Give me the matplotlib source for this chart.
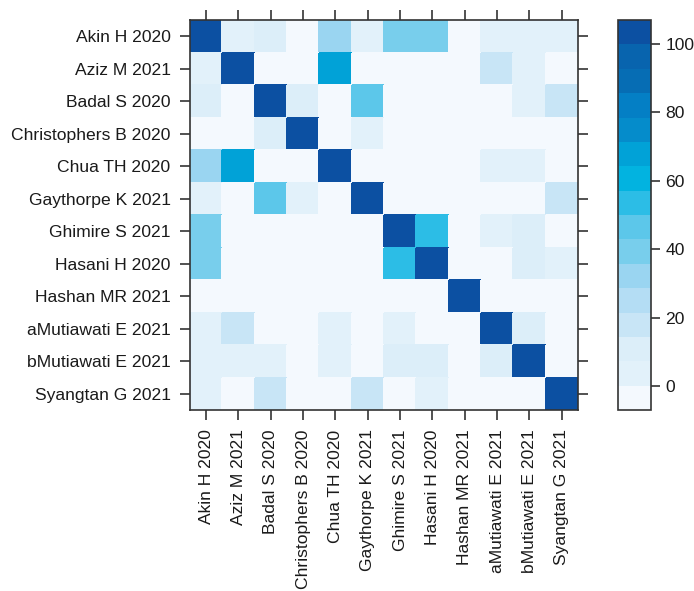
import numpy as np
import matplotlib
matplotlib.use("Agg")
import matplotlib.pyplot as plt
from matplotlib.colors import ListedColormap, BoundaryNorm

plt.rcParams['font.family'] = ['Liberation Sans', 'DejaVu Sans']

labels = ["Akin H 2020", "Aziz M 2021", "Badal S 2020", "Christophers B 2020",
          "Chua TH 2020", "Gaythorpe K 2021", "Ghimire S 2021", "Hasani H 2020",
          "Hashan MR 2021", "aMutiawati E 2021", "bMutiawati E 2021", "Syangtan G 2021"]

# rows (top to bottom) x columns (left to right)
row_akin = [100, 5, 10, 0, 32, 5, 39, 39, 0, 5, 5, 5]
row_aziz = [5, 100, 0, 0, 67, 0, 0, 0, 0, 20, 5, 0]
row_badal = [10, 0, 100, 10, 0, 46, 0, 0, 0, 0, 5, 18]
row_chris = [0, 0, 10, 100, 0, 5, 0, 0, 0, 0, 0, 0]
row_chua = [32, 67, 0, 0, 100, 0, 0, 0, 0, 5, 5, 0]
row_gay = [5, 0, 46, 5, 0, 100, 0, 0, 0, 0, 0, 18]
row_ghi = [39, 0, 0, 0, 0, 0, 100, 53, 0, 5, 10, 0]
row_has = [39, 0, 0, 0, 0, 0, 53, 100, 0, 0, 10, 5]
row_hashan = [0, 0, 0, 0, 0, 0, 0, 0, 100, 0, 0, 0]
row_amut = [5, 20, 0, 0, 5, 0, 5, 0, 0, 100, 10, 0]
row_bmut = [5, 5, 5, 0, 5, 0, 10, 10, 0, 10, 100, 0]
row_syang = [5, 0, 18, 0, 0, 18, 0, 5, 0, 0, 0, 100]

rows = [row_akin, row_aziz, row_badal, row_chris, row_chua, row_gay,
        row_ghi, row_has, row_hashan, row_amut, row_bmut, row_syang]
data = np.array(rows, dtype=float)

bin_colors = ["#F4F9FE", "#E2F1FA", "#DCEEF9", "#C8E5F6", "#B4DDF4", "#9AD5F1",
              "#78CEEC", "#5CC7EA", "#2CBDE6", "#02B3E0", "#01A2D7", "#058CCB",
              "#047FC5", "#066DB4", "#0864AE", "#0C50A2"]
levels = np.linspace(-7, 107, 17)
cbar_ticks = [0, 20, 40, 60, 80, 100]

cmap = ListedColormap(bin_colors)
norm = BoundaryNorm(levels, cmap.N)

fs = 12.6
fig = plt.figure(figsize=(6.94, 5.91), dpi=100)
ax = fig.add_axes([190/694, 1-410/591, 388/694, 390/591])
n = len(labels)
x = np.arange(n + 1)
ax.pcolormesh(x, x, data, cmap=cmap, norm=norm, edgecolors='face', linewidth=0.3)
ax.set_xlim(0, n)
ax.set_ylim(n, 0)
ax.set_xticks(np.arange(n) + 0.5)
ax.set_yticks(np.arange(n) + 0.5)
ax.set_xticklabels(labels, rotation=90, fontsize=fs, color='#1a1a1a')
ax.set_yticklabels(labels, fontsize=fs, color='#1a1a1a')
ax.tick_params(axis='both', which='both', direction='out', length=7, width=1.1,
               color='#222222', top=True, right=True, pad=7)
for s in ax.spines.values():
    s.set_linewidth(1.2)
    s.set_color('#333333')

cax = fig.add_axes([618/694, 1-410/591, 33/694, 390/591])
cb = fig.colorbar(matplotlib.cm.ScalarMappable(norm=norm, cmap=cmap), cax=cax,
                  boundaries=levels, ticks=cbar_ticks)
cb.outline.set_linewidth(1.2)
cb.outline.set_edgecolor('#333333')
cax.tick_params(direction='out', length=6.5, width=1.1, color='#222222',
                labelsize=fs, labelcolor='#1a1a1a', pad=4)
cb.ax.minorticks_off()

fig.savefig("out.png", dpi=100)
